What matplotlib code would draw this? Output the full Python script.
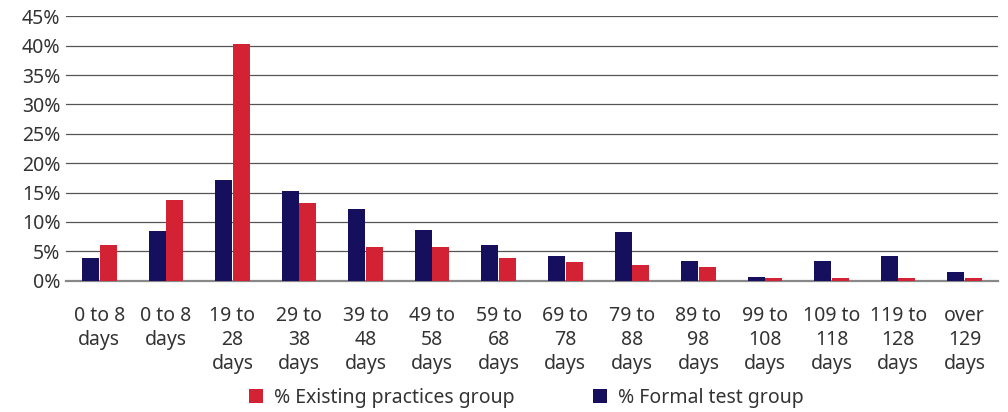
import matplotlib.pyplot as plt
import numpy as np

plt.rcParams['font.family'] = ['Noto Sans', 'DejaVu Sans']

# age bands of the sample
categories = ["0 to 8\ndays", "0 to 8\ndays", "19 to\n28\ndays", "29 to\n38\ndays",
              "39 to\n48\ndays", "49 to\n58\ndays", "59 to\n68\ndays", "69 to\n78\ndays",
              "79 to\n88\ndays", "89 to\n98\ndays", "99 to\n108\ndays", "109 to\n118\ndays",
              "119 to\n128\ndays", "over\n129\ndays"]

formal_test = [3.9, 8.5, 17.1, 15.3, 12.2, 8.6, 6.1, 4.2, 8.3, 3.4, 0.6, 3.4, 4.2, 1.5]
existing = [6.0, 13.7, 40.3, 13.3, 5.7, 5.7, 3.9, 3.2, 2.7, 2.3, 0.45, 0.45, 0.45, 0.45]

y_ticks = [0, 5, 10, 15, 20, 25, 30, 35, 40, 45]

red = '#d22234'
navy = '#160f5e'
text_col = '#333333'

fig = plt.figure(figsize=(10.08, 4.12), dpi=100)
ax = fig.add_axes([66 / 1008, 0.3187, 932 / 1008, 0.6417])

x = np.arange(len(categories))
w = 0.255
ax.bar(x - w / 2 - 0.005, formal_test, width=w, color=navy, label='% Formal test group', zorder=3)
ax.bar(x + w / 2 + 0.005, existing, width=w, color=red, label='% Existing practices group', zorder=3)

ax.set_xlim(-0.5, len(categories) - 0.5)
ax.set_ylim(0, 45)
ax.set_yticks(y_ticks)
ax.set_yticklabels([f"{v}%" for v in y_ticks])
ax.set_xticks(x)
ax.set_xticklabels(categories, linespacing=1.27)

ax.yaxis.grid(True, color='#555555', linewidth=0.9, zorder=0)
for s in ['top', 'right', 'left']:
    ax.spines[s].set_visible(False)
ax.spines['bottom'].set_color('#888888')
ax.spines['bottom'].set_linewidth(1.6)
ax.tick_params(axis='both', length=0, labelsize=14, colors=text_col)
ax.tick_params(axis='x', pad=18)
ax.tick_params(axis='y', pad=4)

handles, labels = ax.get_legend_handles_labels()
fig.legend(handles[::-1], labels[::-1], loc='center', bbox_to_anchor=(0.522, 0.034),
           ncol=2, frameon=False, fontsize=14, handlelength=0.75, handleheight=0.75,
           columnspacing=4.0, handletextpad=0.55, labelcolor=text_col)

fig.savefig('out.png', dpi=100)
